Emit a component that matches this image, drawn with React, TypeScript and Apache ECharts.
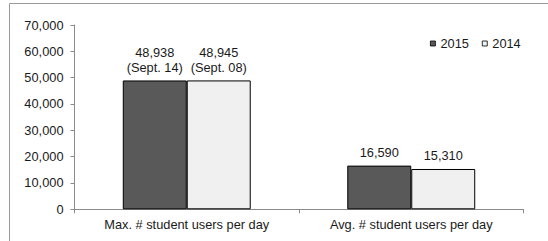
import React, { useEffect, useRef } from "react";
import * as echarts from "echarts";

const categories = ["Max. # student users per day", "Avg. # student users per day"];
const seriesNames = ["2015", "2014"];
const values2015 = [48938, 16590];
const values2014 = [48945, 15310];
const peakDates2015 = ["Sept. 14", ""];
const peakDates2014 = ["Sept. 08", ""];
const yMin = 0;
const yMax = 70000;
const yInterval = 10000;

const FONT = "'Liberation Sans', Arial, sans-serif";
const FS = 12.8;
const fmt = (v: number) => v.toLocaleString("en-US");

export default function App() {
  const ref = useRef<HTMLDivElement>(null);
  useEffect(() => {
    document.body.style.margin = "0";
    const chart = echarts.init(ref.current!, null, { renderer: "svg" });
    const labelFor = (dates: string[]) => (p: any) => {
      const d = dates[p.dataIndex];
      return fmt(p.value) + (d ? "\n(" + d + ")" : "");
    };
    const mkSeries = (name: string, data: number[], dates: string[], color: string) => ({
      name,
      type: "bar",
      data,
      barGap: "0%",
      barCategoryGap: "43%",
      itemStyle: { color, borderColor: "#000", borderWidth: 1 },
      label: {
        show: true,
        position: "top",
        distance: 6,
        formatter: labelFor(dates),
        color: "#1a1a1a",
        fontFamily: FONT,
        fontSize: FS,
        lineHeight: 14.5,
      },
    });
    chart.setOption({
      animation: false,
      backgroundColor: "#fff",
      textStyle: { fontFamily: FONT },
      graphic: [
        {
          type: "rect",
          shape: { x: 9.5, y: 3.5, width: 700, height: 400 },
          style: { fill: "none", stroke: "#9a9a9a", lineWidth: 1 },
          silent: true,
        },
      ],
      legend: {
        data: seriesNames,
        left: 425,
        top: 32,
        itemWidth: 5,
        itemHeight: 5,
        itemGap: 13,
        icon: "rect",
        itemStyle: { borderColor: "#000", borderWidth: 0.8 },
        textStyle: { fontFamily: FONT, fontSize: FS, color: "#1a1a1a" },
      },
      grid: { left: 74.5, right: 24.5, top: 25, bottom: 31.7, containLabel: false },
      xAxis: {
        type: "category",
        data: categories,
        axisLine: { lineStyle: { color: "#8a8a8a", width: 1 } },
        axisTick: { show: true, alignWithLabel: false, length: 4, lineStyle: { color: "#8a8a8a" } },
        axisLabel: { color: "#1a1a1a", fontFamily: FONT, fontSize: FS, margin: 9, interval: 0 },
      },
      yAxis: {
        type: "value",
        min: yMin,
        max: yMax,
        interval: yInterval,
        axisLine: { show: true, lineStyle: { color: "#8a8a8a", width: 1 } },
        axisTick: { show: true, length: 4, lineStyle: { color: "#8a8a8a" } },
        splitLine: { show: false },
        axisLabel: {
          color: "#1a1a1a",
          fontFamily: FONT,
          fontSize: FS,
          margin: 11,
          formatter: (v: number) => fmt(v),
        },
      },
      series: [
        mkSeries(seriesNames[0], values2015, peakDates2015, "#595959"),
        mkSeries(seriesNames[1], values2014, peakDates2014, "#f0f0f0"),
      ],
    });
    return () => chart.dispose();
  }, []);
  return <div ref={ref} style={{ width: 548, height: 241 }} />;
}
